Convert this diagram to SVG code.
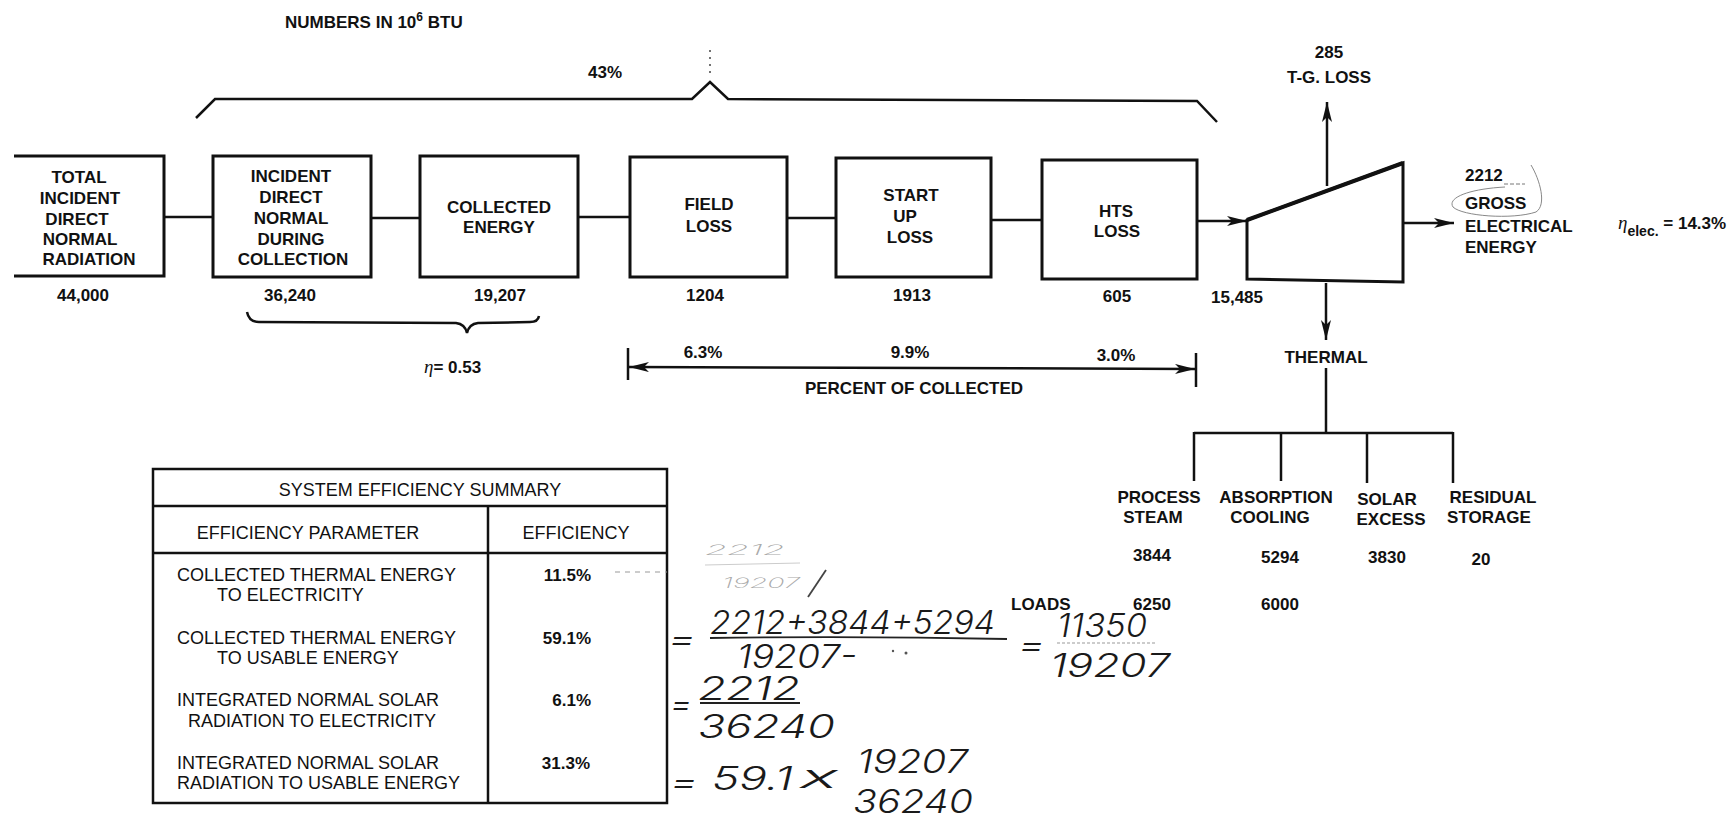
<svg xmlns="http://www.w3.org/2000/svg" width="1735" height="820" viewBox="0 0 1735 820">
<style>
.t{font-family:"Liberation Sans",Arial,sans-serif;font-weight:bold;font-size:17px;fill:#111}
.r{font-family:"Liberation Sans",Arial,sans-serif;font-weight:normal;font-size:18px;fill:#111}
.c{text-anchor:middle}
.e{text-anchor:end}
.box{fill:#fff;stroke:#111;stroke-width:3}
.ln{fill:none;stroke:#111;stroke-width:2.5}
.tb{fill:none;stroke:#111;stroke-width:2.5}
.h{font-family:Inter,Lato,"DejaVu Sans",sans-serif;font-style:italic;font-weight:300;font-size:32px;fill:#1a1a1a}
.hf{font-family:Inter,Lato,"DejaVu Sans",sans-serif;font-style:italic;font-weight:200;font-size:14px;fill:#aaa}
.hl{fill:none;stroke:#222;stroke-width:1.8}
</style>
<defs>
<marker id="arr" viewBox="0 0 20 10" refX="20" refY="5" markerWidth="20" markerHeight="10" markerUnits="userSpaceOnUse" orient="auto">
<path d="M0,0 L20,5 L0,10 L5,5 z" fill="#111"/>
</marker>
<marker id="arrS" viewBox="0 0 20 10" refX="20" refY="5" markerWidth="20" markerHeight="10" markerUnits="userSpaceOnUse" orient="auto-start-reverse">
<path d="M0,0 L20,5 L0,10 L5,5 z" fill="#111"/>
</marker>
</defs>
<rect width="1735" height="820" fill="#fff"/>

<text class="t" x="285" y="28" font-size="16">NUMBERS IN 10<tspan font-size="12" dy="-7">6</tspan><tspan dy="7"> BTU</tspan></text>
<text class="t c" x="605" y="78">43%</text>
<path class="ln" d="M196,118 L215,99 L692,99 L710,82 L728,99 L1197,101 L1217,122"/>
<line x1="710" y1="50" x2="710" y2="74" stroke="#444" stroke-width="1.5" stroke-dasharray="2,5"/>

<g id="connectors">
<line class="ln" x1="164" y1="217" x2="213" y2="217"/>
<line class="ln" x1="371" y1="218" x2="420" y2="218"/>
<line class="ln" x1="578" y1="217" x2="630" y2="217"/>
<line class="ln" x1="787" y1="218" x2="836" y2="218"/>
<line class="ln" x1="991" y1="220" x2="1042" y2="220"/>
<line class="ln" x1="1197" y1="221" x2="1247" y2="221" marker-end="url(#arr)"/>
<line class="ln" x1="1403" y1="223" x2="1454" y2="223" marker-end="url(#arr)"/>
<line class="ln" x1="1327" y1="186" x2="1327" y2="102" marker-end="url(#arr)"/>
<line class="ln" x1="1326" y1="283" x2="1326" y2="340" marker-end="url(#arr)"/>
<line class="ln" x1="1326" y1="368" x2="1326" y2="433"/>
<line class="ln" x1="1194" y1="433" x2="1453" y2="433"/>
<line class="ln" x1="1194" y1="432" x2="1194" y2="481"/>
<line class="ln" x1="1281" y1="432" x2="1281" y2="481"/>
<line class="ln" x1="1367" y1="432" x2="1367" y2="483"/>
<line class="ln" x1="1453" y1="432" x2="1453" y2="483"/>
</g>

<g id="n-total">
<path class="box" d="M14,156 L164,156 L164,276 L14,276" fill="none"/>
<text class="t c" x="79" y="183">TOTAL</text>
<text class="t c" x="80" y="204">INCIDENT</text>
<text class="t c" x="77" y="225">DIRECT</text>
<text class="t c" x="80" y="245">NORMAL</text>
<text class="t c" x="89" y="265">RADIATION</text>
<text class="t c" x="83" y="301">44,000</text>
</g>

<g id="n-incident">
<rect class="box" x="213" y="156" width="158" height="121"/>
<text class="t c" x="291" y="182">INCIDENT</text>
<text class="t c" x="291" y="203">DIRECT</text>
<text class="t c" x="291" y="224">NORMAL</text>
<text class="t c" x="291" y="245">DURING</text>
<text class="t c" x="293" y="265">COLLECTION</text>
<text class="t c" x="290" y="301">36,240</text>
</g>

<g id="n-collected">
<rect class="box" x="420" y="156" width="158" height="121"/>
<text class="t c" x="499" y="213">COLLECTED</text>
<text class="t c" x="499" y="233">ENERGY</text>
<text class="t c" x="500" y="301">19,207</text>
</g>

<path class="ln" d="M247,312 Q249,322 259,322 L456,323 Q465,324 467,333 Q469,324 478,323 L530,322 Q538,322 539,316"/>
<text class="t" x="424" y="373"><tspan font-family="Liberation Serif,serif" font-style="italic" font-weight="normal" font-size="19">η</tspan>= 0.53</text>

<g id="n-field">
<rect class="box" x="630" y="157" width="157" height="120"/>
<text class="t c" x="709" y="210">FIELD</text>
<text class="t c" x="709" y="232">LOSS</text>
<text class="t c" x="705" y="301">1204</text>
</g>

<g id="n-startup">
<rect class="box" x="836" y="158" width="155" height="119"/>
<text class="t c" x="911" y="201">START</text>
<text class="t c" x="905" y="222">UP</text>
<text class="t c" x="910" y="243">LOSS</text>
<text class="t c" x="912" y="301">1913</text>
</g>

<g id="n-hts">
<rect class="box" x="1042" y="160" width="155" height="119"/>
<text class="t c" x="1116" y="217">HTS</text>
<text class="t c" x="1117" y="237">LOSS</text>
<text class="t c" x="1117" y="302">605</text>
</g>

<g id="percent">
<line class="ln" x1="628" y1="348" x2="628" y2="380"/>
<line class="ln" x1="1196" y1="353" x2="1196" y2="387"/>
<line class="ln" x1="629" y1="367" x2="1195" y2="369" marker-start="url(#arrS)" marker-end="url(#arr)"/>
<text class="t c" x="703" y="358">6.3%</text>
<text class="t c" x="910" y="358">9.9%</text>
<text class="t c" x="1116" y="361">3.0%</text>
<text class="t c" x="914" y="394">PERCENT OF COLLECTED</text>
</g>

<g id="n-turbine">
<path d="M1247,279 L1247,220 L1403,163 L1403,282 Z" fill="#fff" stroke="#111" stroke-width="3" stroke-linejoin="miter"/>
<line x1="1247" y1="220" x2="1403" y2="163" stroke="#111" stroke-width="4"/>
<text class="t c" x="1237" y="303">15,485</text>
</g>

<g id="n-tgloss">
<text class="t c" x="1329" y="58">285</text>
<text class="t c" x="1329" y="83">T-G. LOSS</text>
</g>

<g id="n-gross">
<text class="t" x="1465" y="181">2212</text>
<line x1="1504" y1="184" x2="1525" y2="184" stroke="#777" stroke-width="1" stroke-dasharray="4,2"/>
<path d="M1531,165 C1540,180 1547,205 1536,212 C1512,220 1462,216 1453,207 C1447,198 1468,189 1505,187" fill="none" stroke="#888" stroke-width="1"/>
<text class="t" x="1465" y="209">GROSS</text>
<text class="t" x="1465" y="232">ELECTRICAL</text>
<text class="t" x="1465" y="253">ENERGY</text>
</g>

<text class="t" x="1618" y="229" font-size="16"><tspan font-family="Liberation Serif,serif" font-style="italic" font-weight="normal" font-size="19">η</tspan><tspan font-size="14" dy="7">elec.</tspan><tspan dy="-7"> = 14.3%</tspan></text>

<g id="n-thermal">
<text class="t c" x="1326" y="363">THERMAL</text>
</g>

<g id="n-process">
<text class="t c" x="1159" y="503">PROCESS</text>
<text class="t c" x="1153" y="523">STEAM</text>
<text class="t c" x="1152" y="561">3844</text>
<text class="t c" x="1152" y="610">6250</text>
</g>
<g id="n-absorption">
<text class="t c" x="1276" y="503">ABSORPTION</text>
<text class="t c" x="1270" y="523">COOLING</text>
<text class="t c" x="1280" y="563">5294</text>
<text class="t c" x="1280" y="610">6000</text>
</g>
<g id="n-solar">
<text class="t c" x="1387" y="505">SOLAR</text>
<text class="t c" x="1391" y="525">EXCESS</text>
<text class="t c" x="1387" y="563">3830</text>
</g>
<g id="n-residual">
<text class="t c" x="1493" y="503">RESIDUAL</text>
<text class="t c" x="1489" y="523">STORAGE</text>
<text class="t c" x="1481" y="565">20</text>
</g>
<text class="t" x="1011" y="610">LOADS</text>

<g id="table">
<rect class="tb" x="153" y="469" width="514" height="334"/>
<line class="tb" x1="153" y1="506" x2="667" y2="506"/>
<line class="tb" x1="153" y1="553" x2="667" y2="553"/>
<line class="tb" x1="488" y1="506" x2="488" y2="803"/>
<text class="r c" x="420" y="496">SYSTEM EFFICIENCY SUMMARY</text>
<text class="r c" x="308" y="539">EFFICIENCY PARAMETER</text>
<text class="r c" x="576" y="539">EFFICIENCY</text>
<text class="r" x="177" y="581">COLLECTED THERMAL ENERGY</text>
<text class="r" x="217" y="601">TO ELECTRICITY</text>
<text class="t e" x="591" y="581">11.5%</text>
<text class="r" x="177" y="644">COLLECTED THERMAL ENERGY</text>
<text class="r" x="217" y="664">TO USABLE ENERGY</text>
<text class="t e" x="591" y="644">59.1%</text>
<text class="r" x="177" y="706">INTEGRATED NORMAL SOLAR</text>
<text class="r" x="188" y="727">RADIATION TO ELECTRICITY</text>
<text class="t e" x="591" y="706">6.1%</text>
<text class="r" x="177" y="769">INTEGRATED NORMAL SOLAR</text>
<text class="r" x="177" y="789">RADIATION TO USABLE ENERGY</text>
<text class="t e" x="590" y="769">31.3%</text>
</g>

<g id="handwriting">
<line x1="615" y1="572" x2="667" y2="572" stroke="#999" stroke-width="1.2" stroke-dasharray="5,5"/>
<text class="hf" x="705" y="555" textLength="80" lengthAdjust="spacingAndGlyphs">2212</text>
<line x1="705" y1="565" x2="800" y2="563" stroke="#ccc" stroke-width="1"/>
<text class="hf" x="722" y="588" textLength="78" lengthAdjust="spacingAndGlyphs">19207</text>
<line x1="826" y1="570" x2="808" y2="597" stroke="#444" stroke-width="1.8"/>
<text class="h" x="668" y="650" textLength="28" lengthAdjust="spacingAndGlyphs">=</text>
<text class="h" x="710" y="634" textLength="285" lengthAdjust="spacingAndGlyphs">2212+3844+5294</text>
<path class="hl" d="M710,638 Q860,636 1007,639"/>
<text class="h" x="737" y="668" textLength="120" lengthAdjust="spacingAndGlyphs">19207-</text>
<circle cx="893" cy="651" r="1.2" fill="#555"/>
<circle cx="906" cy="653" r="1.5" fill="#555"/>
<text class="h" x="1018" y="656" textLength="27" lengthAdjust="spacingAndGlyphs">=</text>
<text class="h" x="1057" y="637" textLength="90" lengthAdjust="spacingAndGlyphs" fill="#444">11350</text>
<line x1="1057" y1="643" x2="1157" y2="643" stroke="#999" stroke-width="1.2" stroke-dasharray="3,2"/>
<text class="h" x="1050" y="677" font-size="36" textLength="120" lengthAdjust="spacingAndGlyphs">19207</text>
<text class="h" x="670" y="715" textLength="22" lengthAdjust="spacingAndGlyphs">=</text>
<text class="h" x="698" y="700" font-size="28" textLength="102" lengthAdjust="spacingAndGlyphs">2212</text>
<line class="hl" x1="700" y1="703" x2="800" y2="703"/>
<text class="h" x="698" y="738" font-size="36" textLength="137" lengthAdjust="spacingAndGlyphs">36240</text>
<text class="h" x="670" y="793" textLength="28" lengthAdjust="spacingAndGlyphs">=</text>
<text class="h" x="712" y="790" textLength="81" lengthAdjust="spacingAndGlyphs">59.1</text>
<text class="h" x="800" y="788" font-size="34" textLength="38" lengthAdjust="spacingAndGlyphs">x</text>
<text class="h" x="857" y="773" textLength="111" lengthAdjust="spacingAndGlyphs" fill="#555">19207</text>
<text class="h" x="853" y="813" textLength="120" lengthAdjust="spacingAndGlyphs" fill="#aaa">36240</text>
</g>
</svg>
